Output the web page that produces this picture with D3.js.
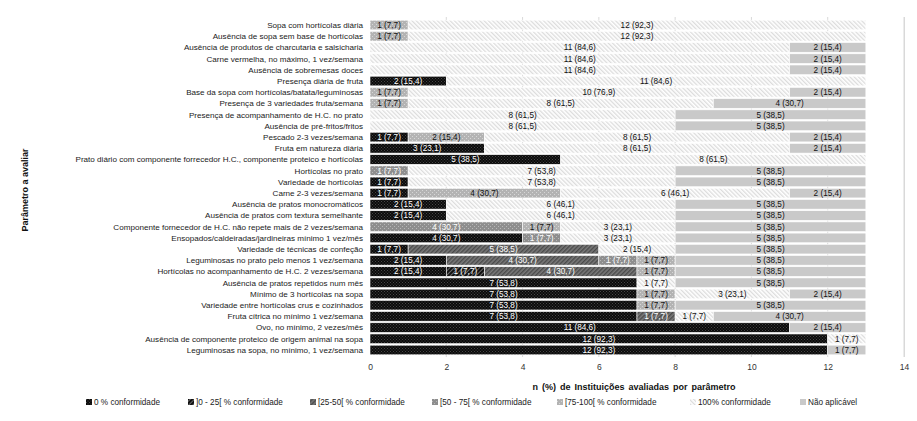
<!DOCTYPE html>
<html><head><meta charset="utf-8">
<script src="https://cdn.jsdelivr.net/npm/d3@7"></script>
<style>body{margin:0;background:#fff}svg{display:block}text{font-family:"Liberation Sans",Arial,sans-serif}</style>
</head><body><svg id="c" width="917" height="421"></svg>
<script>
const rows = ["Sopa com hortícolas diária","Ausência de sopa sem base de hortícolas","Ausência de produtos de charcutaria e salsicharia","Carne vermelha, no máximo, 1 vez/semana","Ausência de sobremesas doces","Presença diária de fruta","Base da sopa com hortícolas/batata/leguminosas","Presença de 3 variedades fruta/semana","Presença de acompanhamento de H.C. no prato","Ausência de pré-fritos/fritos","Pescado 2-3 vezes/semana","Fruta em natureza diária","Prato diário com componente forrecedor H.C., componente proteico e hortícolas","Hortícolas no prato","Variedade de hortícolas","Carne 2-3 vezes/semana","Ausência de pratos monocromáticos","Ausência de pratos com textura semelhante","Componente fornecedor de H.C. não repete mais de 2 vezes/semana","Ensopados/caldeiradas/jardineiras mínimo 1 vez/mês","Variedade de técnicas de confeção","Leguminosas no prato pelo menos 1 vez/semana","Hortícolas no acompanhamento de H.C. 2 vezes/semana","Ausência de pratos repetidos num mês","Mínimo de 3 hortícolas na sopa","Variedade entre hortícolas crus e cozinhados","Fruta cítrica no mínimo 1 vez/semana","Ovo, no mínimo, 2 vezes/mês","Ausência de componente proteico de origem animal na sopa","Leguminosas na sopa, no mínimo, 1 vez/semana"];
const categories = ["0 % conformidade","]0 - 25[ % conformidade","[25-50[ % conformidade","[50 - 75[ % conformidade","[75-100[ % conformidade","100% conformidade","Não aplicável"];
const s0 = [0,0,0,0,0,2,0,0,0,0,1,3,5,0,1,1,2,2,0,4,1,2,2,7,7,7,7,11,12,12];
const s1 = [0,0,0,0,0,0,0,0,0,0,0,0,0,0,0,0,0,0,0,0,0,0,1,0,0,0,0,0,0,0];
const s2 = [0,0,0,0,0,0,0,0,0,0,0,0,0,0,0,0,0,0,0,0,5,4,4,0,0,0,1,0,0,0];
const s3 = [0,0,0,0,0,0,0,0,0,0,0,0,0,1,0,0,0,0,4,1,0,1,0,0,0,0,0,0,0,0];
const s4 = [1,1,0,0,0,0,1,1,0,0,2,0,0,0,0,4,0,0,1,0,0,1,1,0,1,1,0,0,0,0];
const s5 = [12,12,11,11,11,11,10,8,8,8,8,8,8,7,7,6,6,6,3,3,2,0,0,1,3,0,1,0,1,0];
const s6 = [0,0,2,2,2,0,2,4,5,5,2,2,0,5,5,2,5,5,5,5,5,5,5,5,2,5,4,2,0,1];
const series = [s0,s1,s2,s3,s4,s5,s6];
const pctLabels = {1:"7,7",2:"15,4",3:"23,1",4:"30,7",5:"38,5",6:"46,1",7:"53,8",8:"61,5",10:"76,9",11:"84,6",12:"92,3"};
const xTicks = [0,2,4,6,8,10,12,14];

const svg = d3.select("#c");
const defs = svg.append("defs");
function dots(id,bg,fg,sz){const p=defs.append("pattern").attr("id",id).attr("width",sz).attr("height",sz).attr("patternUnits","userSpaceOnUse");
 p.append("rect").attr("width",sz).attr("height",sz).attr("fill",bg);
 p.append("rect").attr("x",0).attr("y",0).attr("width",1).attr("height",1).attr("fill",fg);
 p.append("rect").attr("x",sz/2).attr("y",sz/2).attr("width",1).attr("height",1).attr("fill",fg);}
function stripes(id,bg,fg,sz,w,dir){const p=defs.append("pattern").attr("id",id).attr("width",sz).attr("height",sz).attr("patternUnits","userSpaceOnUse").attr("patternTransform","rotate("+dir+")");
 p.append("rect").attr("width",sz).attr("height",sz).attr("fill",bg);
 p.append("rect").attr("x",0).attr("y",0).attr("width",w).attr("height",sz).attr("fill",fg);}
dots("p0","#0b0b0b","#454545",3);
stripes("p1","#111","#6a6a6a",3,1,45);
stripes("p2","#7a7a7a","#4a4a4a",3,1.4,45);
dots("p3","#8e8e8e","#b8b8b8",4);
dots("p4","#b3b3b3","#d6d6d6",4);
stripes("p5","#ffffff","#dcdcdc",3,1.3,-45);
const fills = ["url(#p0)","url(#p1)","url(#p2)","url(#p3)","url(#p4)","url(#p5)","#c9c9c9"];
const textCol = ["#fff","#fff","#fff","#fff","#111","#111","#111"];

const x = d3.scaleLinear().domain([0,14]).range([370,904]);
const y = d3.scaleBand().domain(rows).range([19.4,355.6]).paddingInner(0.14).paddingOuter(0.07);

svg.append("g").selectAll("line").data(xTicks).join("line")
 .attr("x1",d=>x(d)).attr("x2",d=>x(d)).attr("y1",17).attr("y2",357)
 .attr("stroke",d=>d===0?"none":"#d9d9d9").attr("stroke-width",1);

const table = rows.map((r,i)=>{const o={row:r};categories.forEach((c,k)=>o[c]=series[k][i]);return o;});
const stack = d3.stack().keys(categories)(table);
const g = svg.append("g");
stack.forEach((layer,k)=>{
  const gg = g.append("g");
  gg.selectAll("rect").data(layer.filter(d=>d[1]-d[0]>0)).join("rect")
   .attr("x",d=>x(d[0])).attr("width",d=>x(d[1])-x(d[0]))
   .attr("y",d=>y(d.data.row)).attr("height",y.bandwidth())
   .attr("fill",fills[k]).attr("stroke","#fff").attr("stroke-width",0.6);
  gg.selectAll("text").data(layer.filter(d=>d[1]-d[0]>0)).join("text")
   .attr("x",d=>(x(d[0])+x(d[1]))/2).attr("y",d=>y(d.data.row)+y.bandwidth()/2+2.9)
   .attr("text-anchor","middle").attr("font-size","8.2px").attr("fill",textCol[k])
   .text(d=>{const n=d[1]-d[0];return n+" ("+pctLabels[n]+")";});
});

svg.append("g").selectAll("text").data(rows).join("text")
 .attr("x",363).attr("y",d=>y(d)+y.bandwidth()/2+2.9).attr("text-anchor","end")
 .attr("font-size","8.1px").attr("fill","#1a1a1a").text(d=>d);

const ax = svg.append("g").attr("transform","translate(0,361)").call(d3.axisBottom(x).tickValues(xTicks).tickSize(0).tickFormat(d3.format("d")));
ax.select(".domain").remove();
ax.selectAll("text").attr("font-size","8.5px").attr("fill","#333").attr("font-family","Liberation Sans, Arial, sans-serif");

svg.append("line").attr("x1",904.5).attr("x2",904.5).attr("y1",17).attr("y2",357).attr("stroke","#d9d9d9");

svg.append("text").attr("x",634).attr("y",390).attr("text-anchor","middle").attr("font-size","9px").attr("font-weight","bold").attr("word-spacing","1.5px").attr("fill","#111").text("n (%) de Instituições avaliadas por parâmetro");
svg.append("text").attr("transform","translate(28,190) rotate(-90)").attr("text-anchor","middle").attr("font-size","9px").attr("font-weight","bold").attr("fill","#111").text("Parâmetro a avaliar");

const legX = [86,188,310,432,557,690,800];
const lg = svg.append("g").selectAll("g").data(categories).join("g").attr("transform",(d,i)=>"translate("+legX[i]+",405)");
lg.append("rect").attr("x",0).attr("y",-6).attr("width",6).attr("height",6).attr("fill",(d,i)=>fills[i]);
lg.append("text").attr("x",8).attr("y",0).attr("font-size","8.2px").attr("fill","#222").text(d=>d);
</script></body></html>
